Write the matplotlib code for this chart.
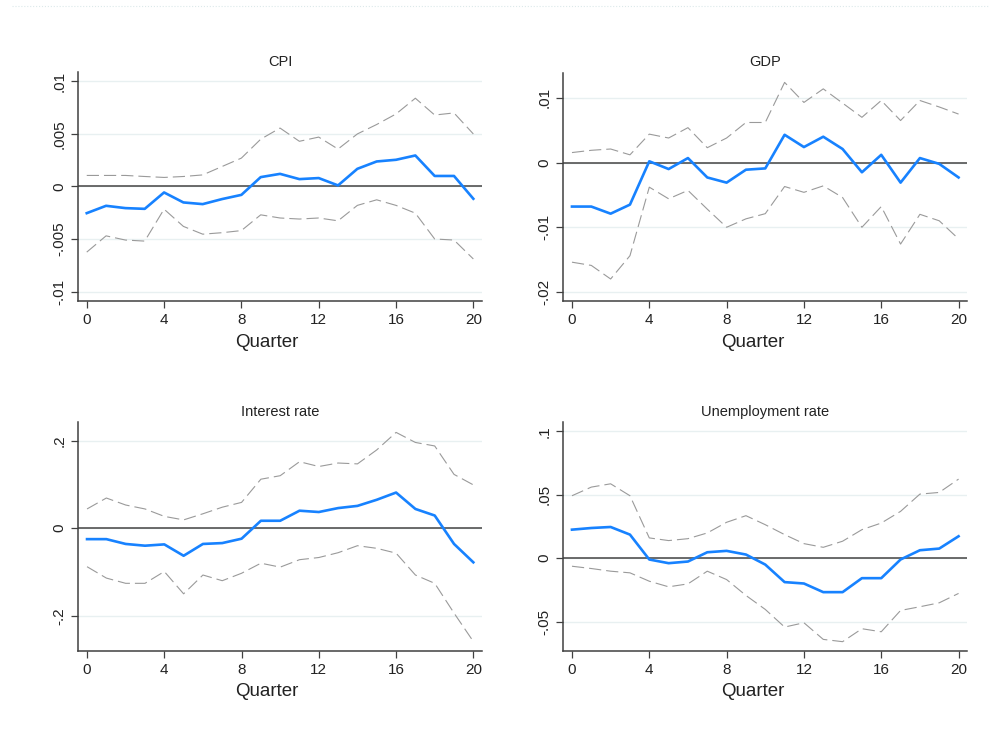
import numpy as np
import matplotlib
matplotlib.use("Agg")
import matplotlib.pyplot as plt
from matplotlib.lines import Line2D
from matplotlib.ticker import FuncFormatter

plt.rcParams['font.family'] = ['Liberation Sans', 'DejaVu Sans']

quarters = list(range(21))

# impulse responses with confidence bands
cpi_irf = [-0.00254, -0.00184, -0.00206, -0.00213, -0.00057, -0.00152, -0.00168, -0.0012, -0.0008, 0.00089,
           0.0012, 0.0007, 0.0008, 0.0001, 0.00168, 0.00238, 0.00254, 0.00295, 0.001, 0.001, -0.00117]
cpi_hi = [0.00105, 0.00105, 0.00105, 0.00095, 0.00086, 0.00095, 0.0011, 0.0019, 0.0027, 0.0045,
          0.00556, 0.0043, 0.0047, 0.00356, 0.005, 0.0059, 0.0069, 0.0084, 0.0068, 0.0070, 0.005]
cpi_lo = [-0.00625, -0.0047, -0.0051, -0.0052, -0.00216, -0.0038, -0.00454, -0.0044, -0.0042, -0.0027,
          -0.003, -0.0031, -0.003, -0.00327, -0.0018, -0.00127, -0.0018, -0.00254, -0.005, -0.0051, -0.0069]

gdp_irf = [-0.0068, -0.0068, -0.0079, -0.0065, 0.0002, -0.001, 0.0007, -0.0023, -0.0031, -0.0011,
           -0.0009, 0.0043, 0.0024, 0.004, 0.0021, -0.0015, 0.0012, -0.0031, 0.0007, -0.0002, -0.0023]
gdp_hi = [0.00155, 0.0019, 0.0021, 0.0012, 0.0044, 0.0038, 0.0054, 0.0023, 0.0038, 0.0062,
          0.0062, 0.0124, 0.0093, 0.0114, 0.0092, 0.007, 0.0096, 0.0065, 0.0096, 0.0086, 0.0075]
gdp_lo = [-0.0154, -0.0159, -0.018, -0.0144, -0.0038, -0.0056, -0.0043, -0.0072, -0.01, -0.0087,
          -0.0079, -0.0037, -0.0046, -0.0036, -0.0054, -0.01, -0.0068, -0.0126, -0.008, -0.009, -0.0118]

rate_irf = [-0.025, -0.025, -0.036, -0.04, -0.037, -0.063, -0.036, -0.034, -0.024, 0.017,
            0.017, 0.040, 0.037, 0.046, 0.051, 0.065, 0.0815, 0.044, 0.029, -0.036, -0.078]
rate_hi = [0.044, 0.069, 0.053, 0.044, 0.027, 0.019, 0.033, 0.048, 0.059, 0.112,
           0.12, 0.152, 0.141, 0.149, 0.147, 0.179, 0.219, 0.196, 0.188, 0.123, 0.099]
rate_lo = [-0.088, -0.114, -0.126, -0.126, -0.099, -0.150, -0.107, -0.120, -0.103, -0.080,
           -0.089, -0.072, -0.067, -0.056, -0.040, -0.046, -0.057, -0.107, -0.126, -0.194, -0.259]

unemp_irf = [0.0225, 0.0238, 0.0246, 0.0186, -0.001, -0.0039, -0.0026, 0.0047, 0.0058, 0.0029,
             -0.005, -0.0188, -0.0199, -0.0267, -0.0267, -0.0157, -0.0157, -0.001, 0.0063, 0.0076, 0.0173]
unemp_hi = [0.0492, 0.056, 0.0586, 0.0492, 0.016, 0.0139, 0.0154, 0.0199, 0.0283, 0.0335,
            0.0264, 0.0186, 0.0115, 0.0086, 0.0134, 0.0225, 0.0277, 0.0369, 0.0505, 0.0518, 0.0623]
unemp_lo = [-0.0063, -0.0081, -0.0102, -0.0115, -0.0181, -0.0225, -0.0202, -0.0102, -0.0168, -0.0293,
            -0.0403, -0.0542, -0.0508, -0.0639, -0.0657, -0.0555, -0.0579, -0.0411, -0.0382, -0.0351, -0.0277]

titles = ['CPI', 'GDP', 'Interest rate', 'Unemployment rate']
irfs = [cpi_irf, gdp_irf, rate_irf, unemp_irf]
his = [cpi_hi, gdp_hi, rate_hi, unemp_hi]
los = [cpi_lo, gdp_lo, rate_lo, unemp_lo]
yticks = [[-0.01, -0.005, 0, 0.005, 0.01],
          [-0.02, -0.01, 0, 0.01],
          [-0.2, 0, 0.2],
          [-0.05, 0, 0.05, 0.1]]
ylims = [(-0.0109, 0.0109), (-0.0214, 0.0139), (-0.28, 0.242), (-0.0728, 0.107)]

# axes boxes in figure fractions [left, bottom, width, height]
boxes = [[0.0782, 0.5905, 0.4048, 0.3116],
         [0.5644, 0.5905, 0.4048, 0.3106],
         [0.0785, 0.1147, 0.4045, 0.3107],
         [0.5644, 0.1147, 0.4048, 0.3107]]


def stata_fmt(v, pos):
    if abs(v) < 1e-12:
        return '0'
    s = ('%g' % v)
    return s.replace('0.', '.')


fig = plt.figure(figsize=(9.98, 7.35), dpi=100)
fig.add_artist(Line2D([0.012, 0.99], [0.992, 0.992], color='#dce9ea', lw=0.8, ls=':'))

for i in range(4):
    ax = fig.add_axes(boxes[i])
    ax.plot(quarters, his[i], color='#9a9a9a', lw=0.8, dashes=(11, 4.5))
    ax.plot(quarters, los[i], color='#9a9a9a', lw=0.8, dashes=(11, 4.5))
    ax.axhline(0, color='#444444', lw=1.1)
    ax.plot(quarters, irfs[i], color='#1782ff', lw=1.9)
    ax.set_xlim(-0.45, 20.45)
    ax.set_ylim(*ylims[i])
    ax.set_xticks([0, 4, 8, 12, 16, 20])
    ax.set_yticks(yticks[i])
    ax.yaxis.set_major_formatter(FuncFormatter(stata_fmt))
    ax.grid(axis='y', color='#e8f0f1', lw=1)
    ax.set_axisbelow(True)
    for side in ['top', 'right']:
        ax.spines[side].set_visible(False)
    for side in ['left', 'bottom']:
        ax.spines[side].set_color('#404040')
        ax.spines[side].set_linewidth(1.1)
    ax.tick_params(axis='both', direction='out', length=5, width=0.9, color='#404040',
                   labelsize=11, labelcolor='#222222')
    for lab in ax.get_yticklabels():
        lab.set_rotation(90)
        lab.set_va('center')
    ax.set_title(titles[i], fontsize=10.5, color='#222222', pad=4.5)
    ax.set_xlabel('Quarter', fontsize=13.5, color='#222222')
    # the x title sits a little left of the plot centre
    ax.xaxis.set_label_coords(0.468, -0.143)
    ax.xaxis.label.set_va('top')

fig.savefig('out.png', dpi=100)
